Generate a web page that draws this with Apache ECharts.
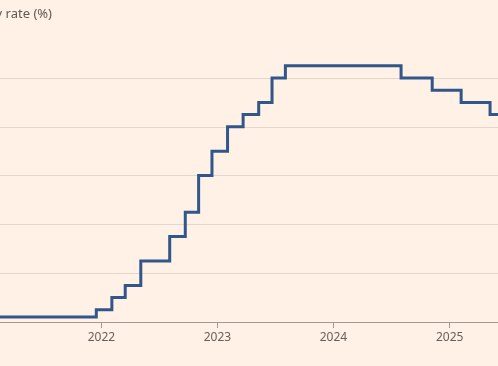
<!DOCTYPE html>
<html>
<head>
<meta charset="utf-8">
<script src="https://cdn.jsdelivr.net/npm/echarts@6/dist/echarts.min.js"></script>
<style>
  html, body { margin: 0; padding: 0; background: #fff1e5; }
  #chart { width: 498px; height: 366px; }
</style>
</head>
<body>
<div id="chart"></div>
<script>
// Policy rate step changes (date of change, new rate %)
const changeDates = [
  '2020-03-19', '2021-12-16', '2022-02-03', '2022-03-17', '2022-05-05',
  '2022-08-04', '2022-09-22', '2022-11-03', '2022-12-15', '2023-02-02',
  '2023-03-23', '2023-05-11', '2023-06-22', '2023-08-03', '2024-08-01',
  '2024-11-07', '2025-02-06', '2025-05-08', '2025-07-01'
];
const rates = [
  0.1, 0.25, 0.5, 0.75, 1.25,
  1.75, 2.25, 3.0, 3.5, 4.0,
  4.25, 4.5, 5.0, 5.25, 5.0,
  4.75, 4.5, 4.25, 4.25
];
const yearTicks = ['2022-01-01', '2023-01-01', '2024-01-01', '2025-01-01'];
const viewStart = '2021-02-16';
const viewEnd = '2025-06-02';
const titleText = 'Bank of England policy rate (%)';

function ts(s) { return new Date(s + 'T00:00:00').getTime(); }

const seriesData = changeDates.map((d, i) => [ts(d), rates[i]]);
const tickValues = yearTicks.map(ts);

const chart = echarts.init(document.getElementById('chart'), null, { renderer: 'canvas' });
chart.setOption({
  backgroundColor: '#fff1e5',
  animation: false,
  graphic: [{
    type: 'text',
    x: 52,
    y: 14,
    style: {
      text: titleText,
      textAlign: 'right',
      textVerticalAlign: 'middle',
      font: '13px "Noto Sans", sans-serif',
      fill: '#5f5955'
    }
  }],
  grid: { left: 0, right: 0, top: 78, bottom: 44, containLabel: false },
  xAxis: {
    type: 'value',
    min: ts(viewStart),
    max: ts(viewEnd),
    axisLine: { show: true, lineStyle: { color: '#a39a93', width: 1 } },
    axisTick: { show: true, length: 6, lineStyle: { color: '#a39a93' }, customValues: tickValues },
    axisLabel: {
      show: true,
      customValues: tickValues,
      margin: 10,
      color: '#66605c',
      fontSize: 12,
      fontFamily: '"Noto Sans", sans-serif',
      formatter: v => String(new Date(v).getFullYear())
    },
    splitLine: { show: false }
  },
  yAxis: {
    type: 'value',
    min: 0,
    max: 5,
    interval: 1,
    axisLabel: { show: false },
    axisLine: { show: false },
    axisTick: { show: false },
    splitLine: { show: true, lineStyle: { color: '#e3d6cb', width: 1 } }
  },
  series: [{
    type: 'line',
    step: 'end',
    data: seriesData,
    showSymbol: false,
    clip: false,
    lineStyle: { color: '#30568a', width: 3, join: 'miter', cap: 'butt' }
  }]
});
</script>
</body>
</html>
